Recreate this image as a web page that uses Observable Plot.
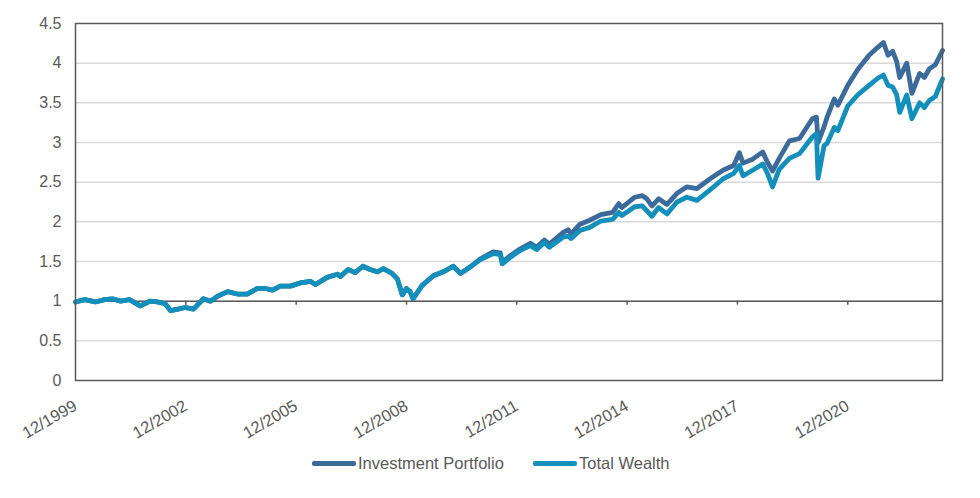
<!DOCTYPE html>
<html>
<head>
<meta charset="utf-8">
<script src="https://cdn.jsdelivr.net/npm/d3@7"></script>
<script src="https://cdn.jsdelivr.net/npm/@observablehq/plot@0.6"></script>
<style>
  body { margin: 0; background: #fff; font-family: "Liberation Sans", Arial, sans-serif; }
  #chart { width: 980px; height: 440px; }
  #legend { width: 980px; height: 58px; position: relative; }
  .item { position: absolute; top: 14px; display: flex; align-items: center; color: #595959; font-size: 16.5px; }
  .sw { width: 44px; height: 4.5px; border-radius: 2px; margin-right: 2px; }
</style>
</head>
<body>
<div id="chart"></div>
<div id="legend"></div>
<script>
const seriesNames = ["Investment Portfolio", "Total Wealth"];
const seriesColors = ["#3b6a9b", "#138fbb"];

const dates = [
  "1999-12-01","2000-03-01","2000-06-15","2000-09-15","2000-12-01","2001-02-20","2001-05-20","2001-09-05",
  "2001-12-10","2002-02-20","2002-05-10","2002-07-01","2002-09-15","2002-11-25","2003-02-15","2003-05-25",
  "2003-08-01","2003-10-10","2004-01-20","2004-04-25","2004-08-01","2004-11-10","2005-01-30","2005-04-10",
  "2005-06-25","2005-10-05","2006-01-10","2006-04-20","2006-06-10","2006-10-05","2007-01-15","2007-02-15",
  "2007-05-01","2007-07-10","2007-09-25","2007-12-05","2008-02-15","2008-04-15","2008-07-10","2008-09-01",
  "2008-10-20","2008-11-30","2009-01-05","2009-02-05","2009-05-05","2009-08-25","2009-12-01","2010-03-10",
  "2010-05-20","2010-08-25","2010-12-01","2011-04-10","2011-06-20","2011-07-10","2011-09-25","2012-01-05",
  "2012-04-15","2012-06-15","2012-09-01","2012-10-20","2013-03-10","2013-04-25","2013-05-25","2013-08-20",
  "2013-11-25","2014-03-15","2014-07-10","2014-09-10","2014-10-10","2015-02-15","2015-05-01","2015-06-15",
  "2015-08-05","2015-10-10","2016-01-01","2016-04-10","2016-07-15","2016-10-25","2017-03-01","2017-07-10",
  "2017-10-25","2017-12-20","2018-01-25","2018-05-01","2018-08-10","2018-09-25","2018-11-15","2019-01-20",
  "2019-05-01","2019-08-10","2019-12-15","2020-01-25","2020-02-10","2020-04-10","2020-05-10","2020-07-20",
  "2020-08-25","2020-12-01","2021-03-10","2021-07-01","2021-09-25","2021-11-20","2022-01-05","2022-02-20",
  "2022-04-01","2022-05-01","2022-07-10","2022-08-30","2022-11-15","2023-01-01","2023-02-20","2023-04-20",
  "2023-06-30"
];

const totalWealth = [
  0.99,1.02,0.99,1.02,1.03,1.00,1.02,0.94,
  1.00,0.99,0.97,0.88,0.90,0.92,0.90,1.03,
  1.00,1.06,1.12,1.09,1.09,1.16,1.16,1.14,
  1.19,1.19,1.23,1.25,1.21,1.30,1.34,1.31,
  1.40,1.36,1.44,1.40,1.37,1.41,1.35,1.28,
  1.08,1.16,1.12,1.03,1.20,1.32,1.37,1.44,
  1.35,1.43,1.52,1.60,1.59,1.47,1.55,1.64,
  1.70,1.65,1.74,1.68,1.81,1.82,1.79,1.89,
  1.93,2.01,2.03,2.12,2.08,2.19,2.20,2.14,
  2.07,2.18,2.10,2.25,2.31,2.27,2.40,2.54,
  2.61,2.71,2.58,2.65,2.73,2.61,2.44,2.66,
  2.80,2.86,3.07,3.11,2.55,2.96,2.99,3.19,
  3.15,3.46,3.60,3.72,3.81,3.85,3.72,3.70,
  3.60,3.38,3.60,3.30,3.50,3.44,3.53,3.58,
  3.80
];

const investmentPortfolio = [
  0.99,1.02,0.99,1.02,1.03,1.00,1.02,0.94,
  1.00,0.99,0.97,0.88,0.90,0.92,0.90,1.03,
  1.00,1.06,1.12,1.09,1.09,1.16,1.16,1.14,
  1.19,1.19,1.23,1.25,1.21,1.30,1.34,1.31,
  1.40,1.36,1.44,1.40,1.37,1.41,1.35,1.28,
  1.08,1.16,1.12,1.03,1.20,1.32,1.37,1.44,
  1.35,1.43,1.53,1.62,1.61,1.49,1.57,1.66,
  1.73,1.68,1.77,1.72,1.87,1.90,1.85,1.97,
  2.02,2.09,2.12,2.23,2.18,2.31,2.33,2.29,
  2.20,2.29,2.22,2.36,2.44,2.42,2.54,2.65,
  2.71,2.87,2.74,2.79,2.88,2.75,2.64,2.80,
  3.02,3.05,3.30,3.32,3.00,3.20,3.32,3.55,
  3.47,3.72,3.92,4.10,4.20,4.26,4.10,4.15,
  4.02,3.82,4.00,3.62,3.87,3.82,3.93,3.98,
  4.16
];

const xTickLabels = ["1999-12-01","2002-12-01","2005-12-01","2008-12-01","2011-12-01","2014-12-01","2017-12-01","2020-12-01"];
const yTicks = [0, 0.5, 1, 1.5, 2, 2.5, 3, 3.5, 4, 4.5];
const xDomain = ["1999-12-01", "2023-06-30"];

const parse = s => new Date(s + "T00:00:00Z");
const xTicks = xTickLabels.map(parse);

const rows = [];
seriesNames.forEach((name, i) => {
  const vals = i === 0 ? investmentPortfolio : totalWealth;
  dates.forEach((d, j) => rows.push({series: name, date: parse(d), value: vals[j]}));
});

const chart = Plot.plot({
  width: 980,
  height: 440,
  marginLeft: 75,
  marginRight: 38,
  marginTop: 23,
  marginBottom: 60,
  style: {fontFamily: "'Liberation Sans', Arial, sans-serif", fontSize: "16px", color: "#595959", background: "#fff", overflow: "visible"},
  x: {type: "utc", domain: xDomain.map(parse)},
  y: {domain: [0, 4.5]},
  color: {domain: seriesNames, range: seriesColors},
  marks: [
    Plot.gridY(yTicks.slice(1, -1), {stroke: "#d9d9d9", strokeOpacity: 1, strokeWidth: 1.5}),
    Plot.axisY(yTicks, {tickSize: 0, tickPadding: 14, tickFormat: d => String(d), label: null, fill: "#595959", fontSize: 16}),
    Plot.axisX(xTicks, {tickSize: 0, tickPadding: 24, tickRotate: -30, tickFormat: d3.utcFormat("%m/%Y"), label: null, fill: "#595959", fontSize: 16.5}),
    Plot.ruleY([1], {stroke: "#595959", strokeWidth: 1.5}),
    Plot.ruleX(xTicks.slice(1), {y1: 1, y2: 0.95, stroke: "#595959", strokeWidth: 1.5}),
    Plot.line(rows, {x: "date", y: "value", z: "series", stroke: "series", strokeWidth: 4.8, strokeLinejoin: "round", strokeLinecap: "round"}),
    Plot.frame({stroke: "#595959", strokeWidth: 1.5})
  ]
});
document.getElementById("chart").appendChild(chart);

const legend = document.getElementById("legend");
const lefts = [312, 533];
seriesNames.forEach((name, i) => {
  const item = document.createElement("div");
  item.className = "item";
  item.style.left = lefts[i] + "px";
  const sw = document.createElement("span");
  sw.className = "sw";
  sw.style.background = seriesColors[i];
  const t = document.createElement("span");
  t.textContent = name;
  item.appendChild(sw);
  item.appendChild(t);
  legend.appendChild(item);
});
</script>
</body>
</html>
